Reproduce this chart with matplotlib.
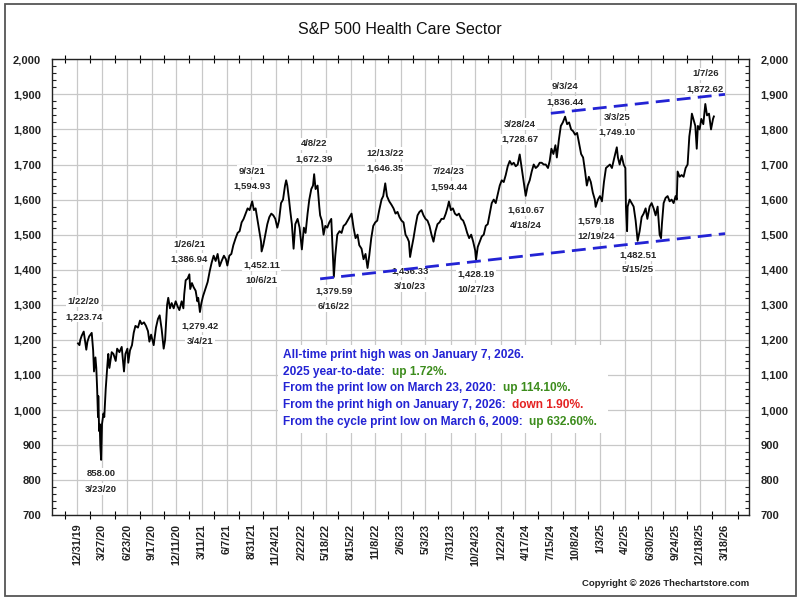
import matplotlib
matplotlib.use('Agg')
import matplotlib.pyplot as plt
import pandas as pd
from matplotlib.patches import Rectangle
from matplotlib.ticker import MultipleLocator, FixedLocator

plt.rcParams['font.family'] = ['Liberation Sans', 'DejaVu Sans']

# ---- price data (approximate) ----
dates_2020 = ['2020-01-02', '2020-01-07', '2020-01-10', '2020-01-15', '2020-01-22', '2020-01-27',
              '2020-01-31', '2020-02-04', '2020-02-10', '2020-02-19', '2020-02-24', '2020-02-27',
              '2020-03-03', '2020-03-06', '2020-03-09', '2020-03-12', '2020-03-13', '2020-03-16',
              '2020-03-18', '2020-03-20', '2020-03-23', '2020-03-26', '2020-03-31', '2020-04-03',
              '2020-04-08', '2020-04-14', '2020-04-17', '2020-04-21', '2020-04-29', '2020-05-05',
              '2020-05-13', '2020-05-18', '2020-05-26', '2020-06-03', '2020-06-11', '2020-06-16',
              '2020-06-23', '2020-06-26', '2020-07-02', '2020-07-09', '2020-07-15', '2020-07-21',
              '2020-07-30', '2020-08-06', '2020-08-12', '2020-08-20', '2020-08-27', '2020-09-03',
              '2020-09-08', '2020-09-14', '2020-09-23', '2020-10-01', '2020-10-08', '2020-10-14',
              '2020-10-21', '2020-10-28', '2020-11-02', '2020-11-09', '2020-11-13', '2020-11-19',
              '2020-11-25', '2020-12-02', '2020-12-09', '2020-12-16', '2020-12-22', '2020-12-30']
close_2020 = [1190, 1185, 1200, 1212, 1223.74, 1195,
              1172, 1195, 1210, 1220, 1170, 1110,
              1150, 1120, 1060, 980, 1040, 940,
              960, 900, 858.00, 960, 990, 980,
              1060, 1130, 1160, 1120, 1165, 1160,
              1140, 1175, 1165, 1180, 1110, 1160,
              1175, 1135, 1170, 1185, 1220, 1240,
              1235, 1255, 1245, 1250, 1240, 1225,
              1195, 1215, 1185, 1235, 1260, 1270,
              1230, 1175, 1200, 1300, 1320, 1290,
              1305, 1290, 1310, 1295, 1285, 1310]

dates_2021 = ['2021-01-05', '2021-01-08', '2021-01-13', '2021-01-20', '2021-01-26', '2021-01-29',
              '2021-02-04', '2021-02-10', '2021-02-17', '2021-02-23', '2021-02-26', '2021-03-04',
              '2021-03-09', '2021-03-15', '2021-03-23', '2021-03-31', '2021-04-07', '2021-04-14',
              '2021-04-21', '2021-04-28', '2021-05-05', '2021-05-12', '2021-05-19', '2021-05-27',
              '2021-06-03', '2021-06-08', '2021-06-15', '2021-06-22', '2021-06-29', '2021-07-07',
              '2021-07-14', '2021-07-21', '2021-07-28', '2021-08-04', '2021-08-11', '2021-08-18',
              '2021-08-25', '2021-09-03', '2021-09-09', '2021-09-15', '2021-09-21', '2021-09-28',
              '2021-10-04', '2021-10-06', '2021-10-12', '2021-10-19', '2021-10-26', '2021-11-02',
              '2021-11-09', '2021-11-16', '2021-11-23', '2021-11-30', '2021-12-06', '2021-12-13',
              '2021-12-20', '2021-12-27', '2021-12-31']
close_2021 = [1290, 1330, 1370, 1375, 1386.94, 1345,
              1362, 1350, 1340, 1310, 1320, 1279.42,
              1305, 1325, 1345, 1365, 1395, 1420,
              1440, 1425, 1445, 1410, 1425, 1440,
              1430, 1412, 1440, 1445, 1470, 1490,
              1505, 1510, 1535, 1545, 1560, 1575,
              1570, 1594.93, 1570, 1575, 1545, 1510,
              1480, 1452.11, 1470, 1500, 1530, 1550,
              1560, 1555, 1545, 1520, 1540, 1590,
              1600, 1640, 1655]

dates_2022 = ['2022-01-04', '2022-01-10', '2022-01-14', '2022-01-20', '2022-01-26', '2022-02-01',
              '2022-02-09', '2022-02-16', '2022-02-24', '2022-03-03', '2022-03-09', '2022-03-16',
              '2022-03-22', '2022-03-29', '2022-04-04', '2022-04-08', '2022-04-13', '2022-04-20',
              '2022-04-26', '2022-04-29', '2022-05-05', '2022-05-11', '2022-05-17', '2022-05-24',
              '2022-05-31', '2022-06-07', '2022-06-13', '2022-06-16', '2022-06-21', '2022-06-28',
              '2022-07-06', '2022-07-13', '2022-07-20', '2022-07-27', '2022-08-03', '2022-08-10',
              '2022-08-17', '2022-08-24', '2022-08-31', '2022-09-07', '2022-09-13', '2022-09-21',
              '2022-09-28', '2022-10-05', '2022-10-12', '2022-10-18', '2022-10-25', '2022-11-01',
              '2022-11-08', '2022-11-15', '2022-11-22', '2022-11-30', '2022-12-06', '2022-12-13',
              '2022-12-19', '2022-12-27']
close_2022 = [1640, 1600, 1570, 1530, 1460, 1530,
              1545, 1520, 1458, 1520, 1505, 1560,
              1600, 1630, 1640, 1672.39, 1630, 1640,
              1580, 1555, 1540, 1500, 1525, 1520,
              1535, 1545, 1430, 1379.59, 1440, 1500,
              1510, 1505, 1525, 1530, 1540, 1550,
              1560, 1520, 1490, 1500, 1470, 1460,
              1430, 1445, 1405, 1440, 1490, 1525,
              1535, 1540, 1570, 1600, 1610, 1646.35,
              1610, 1595]

dates_2023 = ['2023-01-04', '2023-01-11', '2023-01-18', '2023-01-25', '2023-02-01', '2023-02-08',
              '2023-02-15', '2023-02-22', '2023-03-01', '2023-03-06', '2023-03-10', '2023-03-15',
              '2023-03-22', '2023-03-29', '2023-04-05', '2023-04-12', '2023-04-19', '2023-04-26',
              '2023-05-03', '2023-05-10', '2023-05-17', '2023-05-24', '2023-05-31', '2023-06-07',
              '2023-06-14', '2023-06-21', '2023-06-28', '2023-07-06', '2023-07-13', '2023-07-20',
              '2023-07-24', '2023-07-31', '2023-08-07', '2023-08-14', '2023-08-21', '2023-08-28',
              '2023-09-05', '2023-09-12', '2023-09-19', '2023-09-26', '2023-10-03', '2023-10-10',
              '2023-10-17', '2023-10-24', '2023-10-27', '2023-11-02', '2023-11-09', '2023-11-16',
              '2023-11-23', '2023-11-30', '2023-12-07', '2023-12-14', '2023-12-21', '2023-12-28']
close_2023 = [1585, 1575, 1560, 1565, 1550, 1540,
              1535, 1500, 1490, 1480, 1436.33, 1460,
              1490, 1525, 1555, 1565, 1570, 1555,
              1545, 1540, 1525, 1500, 1480, 1510,
              1530, 1535, 1545, 1545, 1560, 1580,
              1594.44, 1570, 1575, 1560, 1555, 1560,
              1545, 1540, 1525, 1505, 1490, 1500,
              1480, 1455, 1428.19, 1465, 1480, 1495,
              1500, 1525, 1530, 1560, 1590, 1600]

dates_2024 = ['2024-01-04', '2024-01-11', '2024-01-18', '2024-01-25', '2024-02-01', '2024-02-08',
              '2024-02-15', '2024-02-22', '2024-02-29', '2024-03-07', '2024-03-14', '2024-03-21',
              '2024-03-28', '2024-04-04', '2024-04-11', '2024-04-18', '2024-04-25', '2024-05-02',
              '2024-05-09', '2024-05-16', '2024-05-23', '2024-05-30', '2024-06-06', '2024-06-13',
              '2024-06-20', '2024-06-27', '2024-07-05', '2024-07-11', '2024-07-17', '2024-07-24',
              '2024-07-31', '2024-08-05', '2024-08-12', '2024-08-19', '2024-08-26', '2024-09-03',
              '2024-09-10', '2024-09-17', '2024-09-24', '2024-10-01', '2024-10-08', '2024-10-15',
              '2024-10-22', '2024-10-29', '2024-11-05', '2024-11-12', '2024-11-18', '2024-11-25',
              '2024-12-02', '2024-12-09', '2024-12-16', '2024-12-19', '2024-12-27']
close_2024 = [1590, 1615, 1640, 1655, 1650, 1670,
              1695, 1710, 1700, 1705, 1695, 1700,
              1728.67, 1690, 1650, 1610.67, 1640, 1655,
              1680, 1700, 1690, 1695, 1705, 1705,
              1700, 1700, 1690, 1710, 1745, 1730,
              1755, 1720, 1770, 1810, 1820, 1836.44,
              1815, 1820, 1800, 1795, 1785, 1790,
              1760, 1730, 1720, 1680, 1640, 1665,
              1650, 1620, 1600, 1579.18, 1600]

dates_2025 = ['2025-01-03', '2025-01-10', '2025-01-17', '2025-01-24', '2025-01-31', '2025-02-07',
              '2025-02-14', '2025-02-21', '2025-02-27', '2025-03-03', '2025-03-07', '2025-03-13',
              '2025-03-20', '2025-03-27', '2025-04-02', '2025-04-04', '2025-04-08', '2025-04-10',
              '2025-04-17', '2025-04-24', '2025-05-01', '2025-05-08', '2025-05-15', '2025-05-22',
              '2025-05-29', '2025-06-05', '2025-06-12', '2025-06-18', '2025-06-26', '2025-07-03',
              '2025-07-10', '2025-07-17', '2025-07-24', '2025-07-31', '2025-08-05', '2025-08-08',
              '2025-08-14', '2025-08-21', '2025-08-28', '2025-09-04', '2025-09-11', '2025-09-18',
              '2025-09-25', '2025-09-29', '2025-10-02', '2025-10-09', '2025-10-16', '2025-10-23',
              '2025-10-30', '2025-11-06', '2025-11-12', '2025-11-17', '2025-11-21', '2025-11-26',
              '2025-12-03', '2025-12-08', '2025-12-12', '2025-12-18', '2025-12-24', '2025-12-31']
close_2025 = [1610, 1595, 1650, 1690, 1695, 1700,
              1690, 1715, 1735, 1749.10, 1720, 1700,
              1725, 1700, 1690, 1580, 1510, 1580,
              1600, 1590, 1580, 1540, 1482.51, 1510,
              1550, 1560, 1575, 1545, 1580, 1590,
              1575, 1555, 1580, 1500, 1490, 1530,
              1590, 1605, 1610, 1595, 1600, 1590,
              1610, 1600, 1680, 1665, 1670, 1665,
              1690, 1700, 1780, 1810, 1845, 1830,
              1810, 1745, 1810, 1800, 1830, 1815]

dates_2026 = ['2026-01-07', '2026-01-13', '2026-01-20', '2026-01-27', '2026-02-03', '2026-02-06']
close_2026 = [1872.62, 1840, 1845, 1800, 1830, 1837]

# ---- labelled highs / lows ----
label_dates = ['1/22/20', '3/23/20', '1/26/21', '3/4/21', '9/3/21', '10/6/21', '4/8/22',
               '6/16/22', '12/13/22', '3/10/23', '7/24/23', '10/27/23', '3/28/24', '4/18/24',
               '9/3/24', '12/19/24', '3/3/25', '5/15/25', '1/7/26']
label_values = [1223.74, 858.00, 1386.94, 1279.42, 1594.93, 1452.11, 1672.39,
                1379.59, 1646.35, 1436.33, 1594.44, 1428.19, 1728.67, 1610.67,
                1836.44, 1579.18, 1749.10, 1482.51, 1872.62]
label_is_high = [True, False, True, False, True, False, True,
                 False, True, False, True, False, True, False,
                 True, False, True, False, True]

# ---- channel trend lines ----
lower_dates = ['2022-04-29', '2026-03-17']
lower_values = [1374, 1503]
upper_dates = ['2024-07-15', '2026-03-17']
upper_values = [1846, 1900]

# ---- axis ticks ----
tick_labels = ['12/31/19', '3/27/20', '6/23/20', '9/17/20', '12/11/20', '3/11/21', '6/7/21',
               '8/31/21', '11/24/21', '2/22/22', '5/18/22', '8/15/22', '11/8/22', '2/6/23',
               '5/3/23', '7/31/23', '10/24/23', '1/22/24', '4/17/24', '7/15/24', '10/8/24',
               '1/3/25', '4/2/25', '6/30/25', '9/24/25', '12/18/25', '3/18/26']

BLUE = '#2323d4'
GREEN = '#3c8c1c'
RED = '#e42222'
box_lines = [
    [("All-time print high was on January 7, 2026.", BLUE)],
    [("2025 year-to-date:  ", BLUE), ("up 1.72%.", GREEN)],
    [("From the print low on March 23, 2020:  ", BLUE), ("up 114.10%.", GREEN)],
    [("From the print high on January 7, 2026:  ", BLUE), ("down 1.90%.", RED)],
    [("From the cycle print low on March 6, 2009:  ", BLUE), ("up 632.60%.", GREEN)],
]

dates = pd.to_datetime(dates_2020 + dates_2021 + dates_2022 + dates_2023 +
                       dates_2024 + dates_2025 + dates_2026)
close = close_2020 + close_2021 + close_2022 + close_2023 + close_2024 + close_2025 + close_2026

fig = plt.figure(figsize=(8, 6), dpi=100)
ax = fig.add_axes([0.0654, 0.1412, 0.8712, 0.76])
ax.set_axisbelow(True)

ax.plot(dates, close, color='black', lw=1.35, zorder=3.5)

ax.plot(pd.to_datetime(lower_dates), lower_values, color=BLUE, lw=2.0,
        dashes=(5, 2.6), zorder=4)
ax.plot(pd.to_datetime(upper_dates), upper_values, color=BLUE, lw=2.0,
        dashes=(5, 2.6), zorder=4)

# labels for highs and lows
for d, v, hi in zip(label_dates, label_values, label_is_high):
    x = pd.to_datetime(d, format='%m/%d/%y')
    vtxt = f'{v:,.2f}'
    if hi:
        first, second = (vtxt, 10.8), (d, 21.8)
    else:
        first, second = (vtxt, -10.0), (d, -21.0)
    for txt, off in (first, second):
        ax.annotate(txt, xy=(x, v), xytext=(0, off), textcoords='offset points',
                    ha='center', va='center', fontsize=6.8, fontweight='bold',
                    color='#262626', zorder=3,
                    bbox=dict(fc='white', ec='none', pad=1.0))

# axes ranges and ticks
ax.set_xlim(pd.Timestamp('2019-10-04'), pd.Timestamp('2026-06-10'))
ax.set_ylim(700, 2000)

tick_dates = pd.to_datetime(tick_labels, format='%m/%d/%y')
tick_nums = matplotlib.dates.date2num(tick_dates)
step = tick_nums[1] - tick_nums[0]
mids = [tick_nums[0] - step / 2] + [(a + b) / 2 for a, b in zip(tick_nums[:-1], tick_nums[1:])] \
       + [tick_nums[-1] + step / 2]
ax.xaxis.set_major_locator(FixedLocator(tick_nums))
ax.xaxis.set_minor_locator(FixedLocator(mids))
ax.set_xticklabels(tick_labels, rotation=90, fontsize=7.8, fontweight='bold', color='#222222')

ax.yaxis.set_major_locator(MultipleLocator(100))
ax.yaxis.set_minor_locator(MultipleLocator(20))
ax.yaxis.set_major_formatter(matplotlib.ticker.FuncFormatter(lambda v, p: f'{v:,.0f}'))
ax.tick_params(axis='y', which='both', left=True, right=True, labelleft=True,
               labelright=True, direction='in', labelsize=8, colors='#222222')
ax.tick_params(axis='y', which='major', length=0, pad=8)
ax.tick_params(axis='y', which='minor', length=3, width=0.8)
ax.tick_params(axis='x', which='both', top=True, bottom=True, direction='inout')
ax.tick_params(axis='x', which='major', length=0, pad=6)
ax.tick_params(axis='x', which='minor', length=6, width=0.8)
for lab in ax.get_yticklabels():
    lab.set_fontweight('bold')

ax.grid(True, which='major', color='#c8c8c8', lw=0.9)
for sp in ax.spines.values():
    sp.set_color('#222222')
    sp.set_linewidth(1.0)

# white panel behind the notes
ax.add_patch(Rectangle((278 / 800, 1 - 433 / 600), 330 / 800, 88 / 600,
                       transform=fig.transFigure, fc='white', ec='none', zorder=1))

for i, segs in enumerate(box_lines):
    y = 1 - (361 + i * 16.75) / 600
    prev = ax.text(283 / 800, y, segs[0][0], transform=fig.transFigure, color=segs[0][1],
                   fontsize=8.6, fontweight='bold', va='bottom', ha='left', zorder=5)
    for txt, col in segs[1:]:
        prev = ax.annotate(txt, xy=(1, 0), xycoords=prev, va='bottom', ha='left',
                           color=col, fontsize=8.6, fontweight='bold', zorder=5)

fig.text(0.5, 0.95, 'S&P 500 Health Care Sector', ha='center', va='center',
         fontsize=11.5, color='#111111')
fig.text(749 / 800, 1 - 583 / 600, 'Copyright \u00a9 2026 Thechartstore.com', ha='right',
         va='center', fontsize=6.8, fontweight='bold', color='#222222')

fig.patches.append(Rectangle((0.006, 0.007), 0.989, 0.987, transform=fig.transFigure,
                             fill=False, ec='#555555', lw=1.3))

fig.savefig('out.png', dpi=100)
